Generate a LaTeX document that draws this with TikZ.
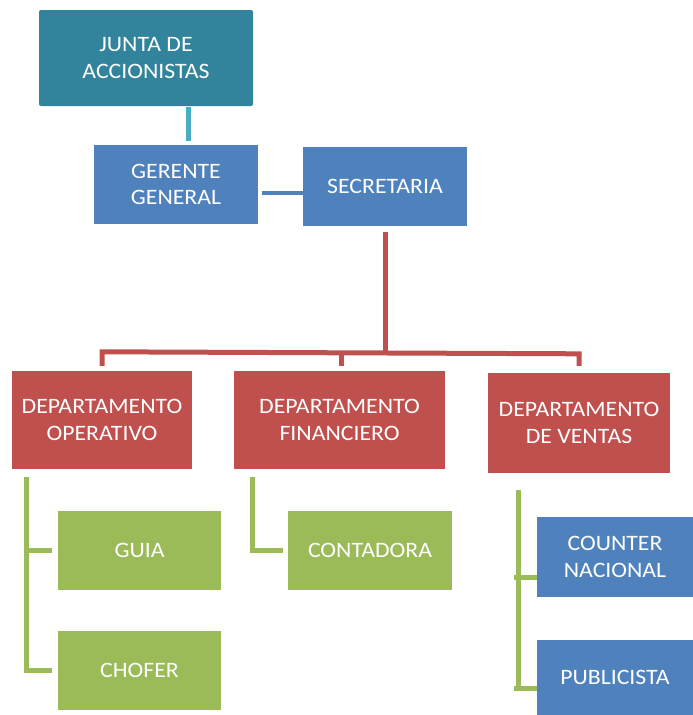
\documentclass[tikz,border=0pt]{standalone}
\usepackage{fontspec}
\setmainfont{Carlito}[FakeStretch=1.08]
\definecolor{teal1}{HTML}{31849B}
\definecolor{blue1}{HTML}{4F81BD}
\definecolor{red1}{HTML}{C0504D}
\definecolor{green1}{HTML}{9BBB59}
\definecolor{lblue}{HTML}{4BACC6}
\begin{document}
\begin{tikzpicture}[x=1pt,y=-1pt,
  box/.style={draw=none,fill=#1,text=white,align=center,inner sep=0pt,
    font=\fontsize{22}{26.5}\selectfont},
  conn/.style={draw=#1,line width=5pt}]
\useasboundingbox (0,0) rectangle (693,715);
% boxes
\node[box=teal1,minimum width=214,minimum height=96,rounded corners=2pt] (junta) at (146,58) {JUNTA DE\\ACCIONISTAS};
\node[box=blue1,minimum width=164,minimum height=79] (gerente) at (176,184.5) {GERENTE\\GENERAL};
\node[box=blue1,minimum width=164,minimum height=79] (secre) at (385,186.5) {SECRETARIA};
\node[box=red1,minimum width=180,minimum height=98] (oper) at (102,420) {DEPARTAMENTO\\OPERATIVO};
\node[box=red1,minimum width=211,minimum height=98] (fin) at (339.5,420) {DEPARTAMENTO\\FINANCIERO};
\node[box=red1,minimum width=182,minimum height=100] (ven) at (579,423) {DEPARTAMENTO\\DE VENTAS};
\node[box=green1,minimum width=163,minimum height=79] (guia) at (139.5,550.5) {GUIA};
\node[box=green1,minimum width=163,minimum height=79] (chofer) at (139.5,670.5) {CHOFER};
\node[box=green1,minimum width=164,minimum height=79] (conta) at (370,550.5) {CONTADORA};
\node[box=blue1,minimum width=156,minimum height=80] (counter) at (615,557) {COUNTER\\NACIONAL};
\node[box=blue1,minimum width=156,minimum height=75] (publi) at (615,677.5) {PUBLICISTA};
% connectors
\draw[conn=lblue] ([xshift=42,yshift=-1]junta.south) -- ([xshift=12,yshift=4]gerente.north);
\draw[draw=blue1,line width=4pt] ([xshift=4,yshift=-8.5]gerente.east) -- ([yshift=-6.5]secre.west);
\coordinate (rj) at ([yshift=-126]secre.south);
\draw[conn=red1] ([yshift=-6]secre.south) -- (rj);
\draw[conn=red1] ([yshift=5]oper.north) -- ([yshift=19]oper.north) -- ([yshift=19]ven.north) -- ([yshift=7]ven.north);
\draw[conn=red1] ([xshift=1.5,yshift=5]fin.north) -- ([xshift=1.5,yshift=19]fin.north);
\coordinate (g1) at ([xshift=15,yshift=-8]oper.south west);
\draw[conn=green1] (g1) |- ([xshift=-6]chofer.west);
\draw[conn=green1] (g1 |- guia.west) -- ([xshift=-6]guia.west);
\coordinate (g2) at ([xshift=19,yshift=-8]fin.south west);
\draw[conn=green1] (g2) |- ([xshift=-5]conta.west);
\coordinate (g3) at ([xshift=31,yshift=-17]ven.south west);
\coordinate (t1) at ([yshift=-20]counter.west);
\coordinate (t2) at ([yshift=-10.5]publi.west);
\draw[conn=green1] (g3) -- (g3 |- t2);
\draw[conn=green1] ([xshift=-23]t1) -- (t1);
\draw[conn=green1] ([xshift=-23]t2) -- (t2);
\end{tikzpicture}
\end{document}
